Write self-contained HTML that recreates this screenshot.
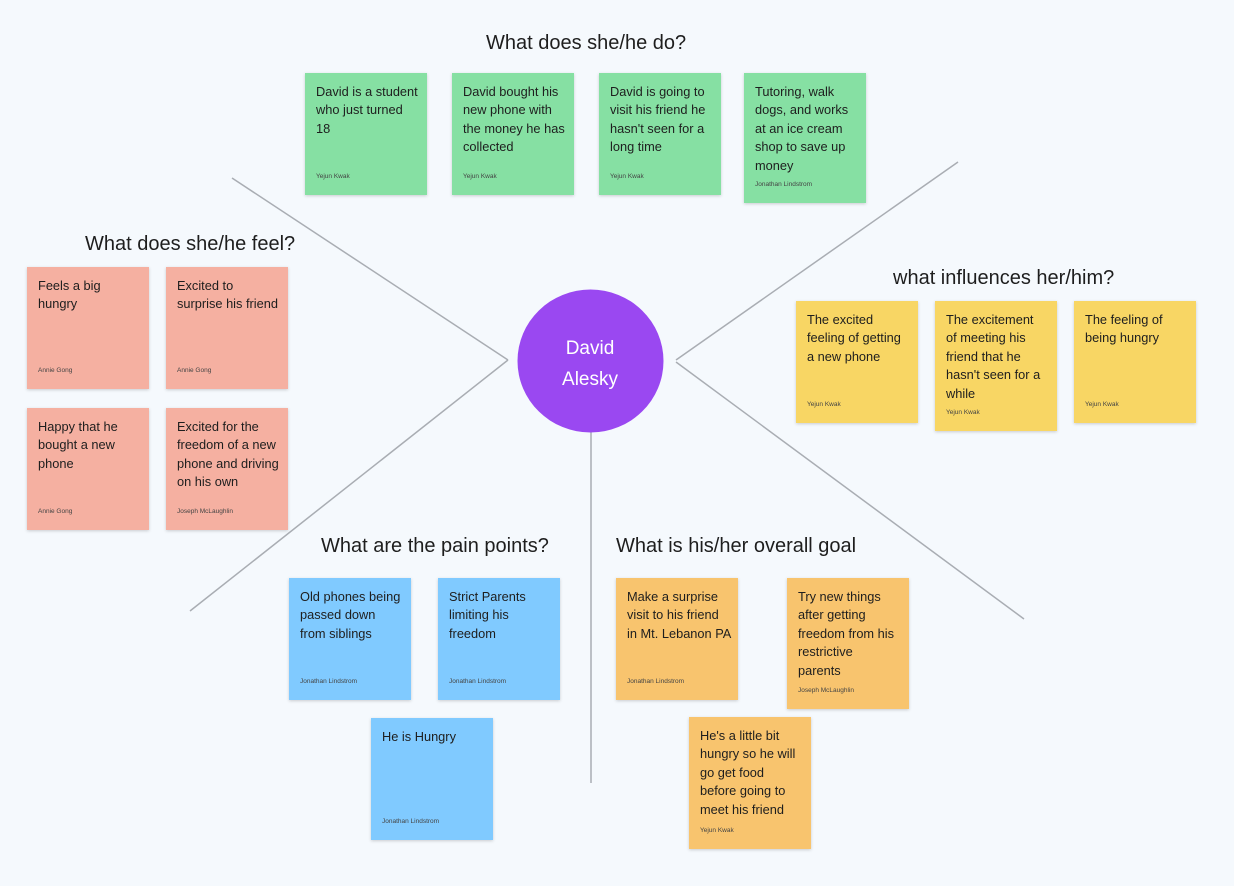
<!DOCTYPE html>
<html><head><style>
body{margin:0;width:1234px;height:886px;background:#f5f9fd;position:relative;overflow:hidden;font-family:"Liberation Sans",sans-serif;color:#1e1e1e}
.s{position:absolute;width:122px;box-sizing:border-box;padding:10px 8px 10px 11px;font-size:12.8px;line-height:18.4px;white-space:nowrap;box-shadow:0 1px 3px rgba(0,0,0,.18)}
.s i{position:absolute;left:11px;bottom:9px;font-style:normal;font-size:6.5px;color:#444}
.g{background:#86e0a3}.r{background:#f5b0a1}.y{background:#f8d664}.b{background:#80caff}.o{background:#f8c46e}
.h{position:absolute;font-size:20px;white-space:nowrap}
</style></head><body>
<svg width="1234" height="886" style="position:absolute;left:0;top:0">
<g stroke="#a9adb3" stroke-width="1.5" fill="none">
<line x1="232" y1="178" x2="508" y2="360"/>
<line x1="190" y1="611" x2="508" y2="360"/>
<line x1="958" y1="162" x2="676" y2="360"/>
<line x1="1024" y1="619" x2="676" y2="362"/>
<line x1="591" y1="430" x2="591" y2="783"/>
</g>
<ellipse cx="590.5" cy="361" rx="73" ry="71.5" fill="#9a48f1"/>
<text x="590" y="354" fill="#fff" font-size="19" text-anchor="middle" font-family="Liberation Sans">David</text>
<text x="590" y="385" fill="#fff" font-size="19" text-anchor="middle" font-family="Liberation Sans">Alesky</text>
</svg>
<div class="h" style="left:486px;top:32px">What does she/he do?</div>
<div class="h" style="left:85px;top:233px">What does she/he feel?</div>
<div class="h" style="left:893px;top:267px">what influences her/him?</div>
<div class="h" style="left:321px;top:535px">What are the pain points?</div>
<div class="h" style="left:616px;top:535px">What is his/her overall goal</div>

<div class="s g" style="left:305px;top:73px;height:122px">David is a student<br>who just turned<br>18<i>Yejun Kwak</i></div>
<div class="s g" style="left:452px;top:73px;height:122px">David bought his<br>new phone with<br>the money he has<br>collected<i>Yejun Kwak</i></div>
<div class="s g" style="left:599px;top:73px;height:122px">David is going to<br>visit his friend he<br>hasn't seen for a<br>long time<i>Yejun Kwak</i></div>
<div class="s g" style="left:744px;top:73px;height:130px">Tutoring, walk<br>dogs, and works<br>at an ice cream<br>shop to save up<br>money<i>Jonathan Lindstrom</i></div>

<div class="s r" style="left:27px;top:267px;height:122px">Feels a big<br>hungry<i>Annie Gong</i></div>
<div class="s r" style="left:166px;top:267px;height:122px">Excited to<br>surprise his friend<i>Annie Gong</i></div>
<div class="s r" style="left:27px;top:408px;height:122px">Happy that he<br>bought a new<br>phone<i>Annie Gong</i></div>
<div class="s r" style="left:166px;top:408px;height:122px">Excited for the<br>freedom of a new<br>phone and driving<br>on his own<i>Joseph McLaughlin</i></div>

<div class="s y" style="left:796px;top:301px;height:122px">The excited<br>feeling of getting<br>a new phone<i>Yejun Kwak</i></div>
<div class="s y" style="left:935px;top:301px;height:130px">The excitement<br>of meeting his<br>friend that he<br>hasn't seen for a<br>while<i>Yejun Kwak</i></div>
<div class="s y" style="left:1074px;top:301px;height:122px">The feeling of<br>being hungry<i>Yejun Kwak</i></div>

<div class="s b" style="left:289px;top:578px;height:122px">Old phones being<br>passed down<br>from siblings<i>Jonathan Lindstrom</i></div>
<div class="s b" style="left:438px;top:578px;height:122px">Strict Parents<br>limiting his<br>freedom<i>Jonathan Lindstrom</i></div>
<div class="s b" style="left:371px;top:718px;height:122px">He is Hungry<i>Jonathan Lindstrom</i></div>

<div class="s o" style="left:616px;top:578px;height:122px">Make a surprise<br>visit to his friend<br>in Mt. Lebanon PA<i>Jonathan Lindstrom</i></div>
<div class="s o" style="left:787px;top:578px;height:131px">Try new things<br>after getting<br>freedom from his<br>restrictive<br>parents<i>Joseph McLaughlin</i></div>
<div class="s o" style="left:689px;top:717px;height:132px">He's a little bit<br>hungry so he will<br>go get food<br>before going to<br>meet his friend<i>Yejun Kwak</i></div>
</body></html>
